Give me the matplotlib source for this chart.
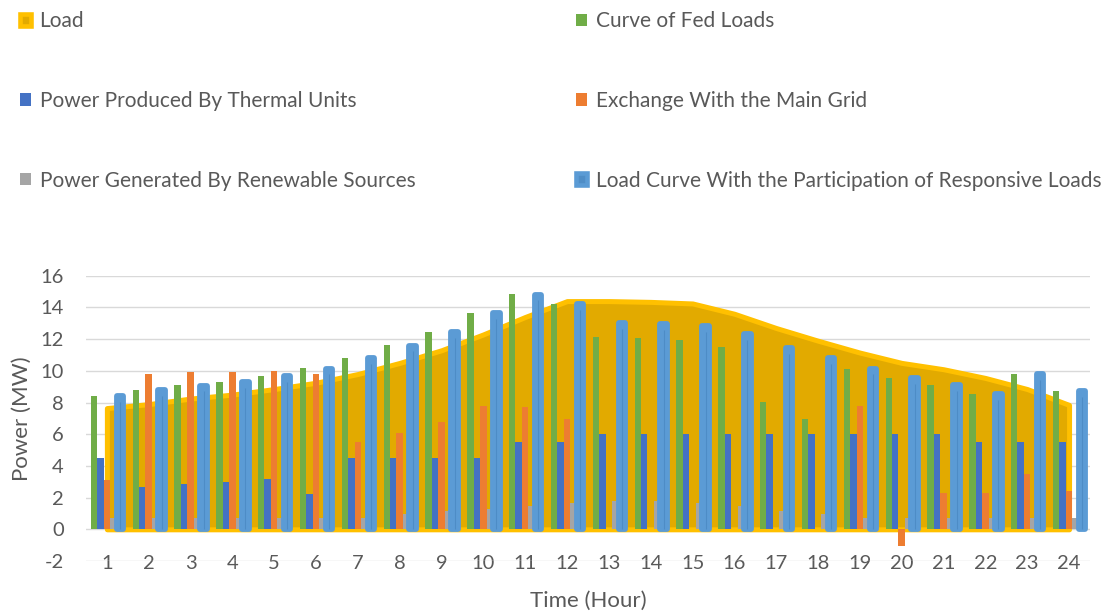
import numpy as np
import matplotlib.pyplot as plt
from matplotlib.patches import Patch

plt.rcParams['font.family'] = ['Lato', 'DejaVu Sans']
plt.rcParams['axes.unicode_minus'] = False
TXT = '#595959'

hours = list(range(1, 25))
load = [7.65, 7.9, 8.25, 8.5, 8.85, 9.25, 9.8, 10.5, 11.3, 12.3, 13.4, 14.4,
        14.4, 14.35, 14.25, 13.6, 12.7, 11.9, 11.15, 10.5, 10.1, 9.55, 8.85, 7.85]
fed_loads = [8.43, 8.81, 9.08, 9.31, 9.67, 10.15, 10.8, 11.63, 12.47, 13.67, 14.82, 14.23,
             12.11, 12.07, 11.96, 11.48, 8.03, 6.96, 10.11, 9.57, 9.1, 8.56, 9.8, 8.73]
thermal = [4.5, 2.65, 2.84, 3.0, 3.17, 2.23, 4.5, 4.5, 4.5, 4.5, 5.5, 5.5,
           6.0, 6.0, 6.0, 6.0, 6.0, 6.0, 6.0, 6.0, 6.0, 5.5, 5.5, 5.5]
exchange = [3.13, 9.8, 9.9, 9.95, 10.0, 9.82, 5.53, 6.08, 6.79, 7.8, 7.74, 6.98,
            0, 0, 0, 0, 0, 0, 7.78, -1.05, 2.27, 2.27, 3.49, 2.42]
renewable = [0.73, 0.73, 0.73, 0.73, 0.73, 0.73, 0.73, 0.98, 1.15, 1.3, 1.5, 1.66,
             1.77, 1.77, 1.64, 1.47, 1.15, 0.94, 0.73, 0.73, 0.73, 0.73, 0.73, 0.73]
responsive = [8.39, 8.79, 9.06, 9.29, 9.65, 10.13, 10.79, 11.58, 12.43, 13.65, 14.79, 14.21,
              12.99, 12.95, 12.83, 12.32, 11.42, 10.81, 10.12, 9.54, 9.08, 8.53, 9.8, 8.73]

labels = ['Load', 'Power Produced By Thermal Units', 'Power Generated By Renewable Sources',
          'Curve of Fed Loads', 'Exchange With the Main Grid',
          'Load Curve With the Participation of Responsive Loads']

x = np.arange(len(hours))
w = 0.155

fig = plt.figure(figsize=(11.05, 6.13), dpi=100)
ax = fig.add_axes([0.0778, 0.0848, 0.9086, 0.4654])

# load profile as a filled area behind the bars
ax.fill_between(x, 0, load, facecolor='#e2aa00', edgecolor='#ffc000',
                linewidth=3.6, joinstyle='round', zorder=1)

ax.bar(x - 2 * w, fed_loads, w, color='#70ad47', zorder=2)
ax.bar(x - w, thermal, w, color='#4472c4', zorder=2)
ax.bar(x, exchange, w, color='#ed7d31', zorder=2)
ax.bar(x + w, renewable, w, color='#a5a5a5', zorder=2)
ax.bar(x + 2 * w, responsive, w, color='#5b9bd5', edgecolor='#5b9bd5',
       linewidth=4.2, joinstyle='round', zorder=3)
ax.vlines(x + 2 * w, 0, np.array(responsive) - 0.35, color='#4d8cc6', lw=0.8, zorder=4)

ax.set_xlim(-0.5, 23.5)
ax.set_ylim(-2, 16)
ax.set_yticks(np.arange(-2, 17, 2))
ax.set_xticks(x)
ax.set_xticklabels(hours)
ax.grid(axis='y', color='#d9d9d9', linewidth=1.0, zorder=0)
ax.set_axisbelow(True)
for s in ['top', 'right', 'left']:
    ax.spines[s].set_visible(False)
ax.spines['bottom'].set_position(('data', 0))
ax.spines['bottom'].set_visible(False)
ax.tick_params(axis='y', length=0, pad=16, labelsize=14.5, labelcolor=TXT)
ax.tick_params(axis='x', length=0, pad=18.5, labelsize=14.5, labelcolor=TXT)

ax.set_ylabel('Power (MW)', fontsize=16, color=TXT)
ax.yaxis.set_label_coords(-0.054, 0.5)
ax.set_xlabel('Time (Hour)', fontsize=16, color=TXT)
ax.xaxis.set_label_coords(0.5, -0.14)
ax.xaxis.label.set_va('center')

handles = [
    Patch(facecolor='#e2aa00', edgecolor='#ffc000', linewidth=3.3, joinstyle='round'),
    Patch(facecolor='#4472c4'),
    Patch(facecolor='#a5a5a5'),
    Patch(facecolor='#70ad47'),
    Patch(facecolor='#ed7d31'),
    Patch(facecolor='#4f8dc6', edgecolor='#5b9bd5', linewidth=3.3, joinstyle='round'),
]
leg_kw = dict(frameon=False, fontsize=15, labelcolor=TXT, handlelength=0.52,
              handleheight=0.52, handletextpad=0.42, labelspacing=2.87,
              borderpad=0, borderaxespad=0, loc='upper left')
fig.legend(handles[:3], labels[:3], bbox_to_anchor=(0.0181, 0.982), **leg_kw)
fig.legend(handles[3:], labels[3:], bbox_to_anchor=(0.5213, 0.982), **leg_kw)

fig.savefig('out.png', dpi=100)
